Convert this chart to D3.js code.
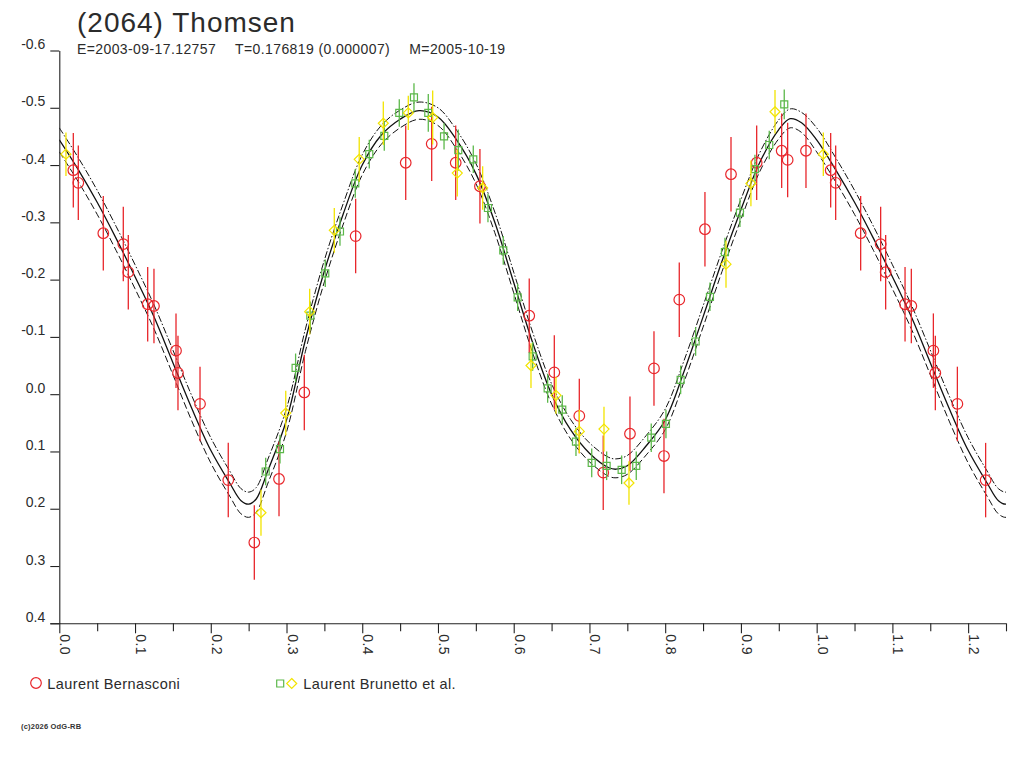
<!DOCTYPE html>
<html>
<head>
<meta charset="utf-8">
<script src="https://cdn.jsdelivr.net/npm/d3@7"></script>
<style>
  body { margin: 0; background: #fff; }
  svg { font-family: "Liberation Sans", Arial, sans-serif; }
  text { fill: #2b2b2b; }
</style>
</head>
<body>
<div id="chart"></div>
<script>
// Header texts
const titleText = "(2064) Thomsen";
const subtitleParts = ["E=2003-09-17.12757", "T=0.176819 (0.000007)", "M=2005-10-19"];
const copyrightText = "(c)2026 OdG-RB";

// Axis ticks
const xMajorTicks = [0.0, 0.1, 0.2, 0.3, 0.4, 0.5, 0.6, 0.7, 0.8, 0.9, 1.0, 1.1, 1.2];
const xMajorLabels = ["0.0", "0.1", "0.2", "0.3", "0.4", "0.5", "0.6", "0.7", "0.8", "0.9", "1.0", "1.1", "1.2"];
const xMinorTicks = [0.05, 0.15, 0.25, 0.35, 0.45, 0.55, 0.65, 0.75, 0.85, 0.95, 1.05, 1.15, 1.25];
const yTicks = [-0.6, -0.5, -0.4, -0.3, -0.2, -0.1, 0.0, 0.1, 0.2, 0.3, 0.4];
const yTickLabels = ["-0.6", "-0.5", "-0.4", "-0.3", "-0.2", "-0.1", "0.0", "0.1", "0.2", "0.3", "0.4"];

// Fitted lightcurve (solid) and its envelopes
const fitPhase = [0, 0.025, 0.05, 0.075, 0.1, 0.125, 0.15, 0.175, 0.2, 0.225, 0.24, 0.25, 0.26, 0.275, 0.3,
  0.325, 0.35, 0.375, 0.4, 0.425, 0.45, 0.475, 0.5, 0.525, 0.55, 0.575, 0.6, 0.625, 0.65, 0.675,
  0.7, 0.725, 0.735, 0.75, 0.775, 0.8, 0.825, 0.85, 0.875, 0.9, 0.925, 0.95, 0.965, 0.98];
const fitMag = [-0.444, -0.392, -0.335, -0.272, -0.205, -0.135, -0.055, 0.025, 0.098, 0.155, 0.186, 0.192, 0.183, 0.135, 0.045,
  -0.095, -0.215, -0.315, -0.400, -0.452, -0.480, -0.495, -0.484, -0.443, -0.385, -0.300, -0.195, -0.090, 0.000, 0.062,
  0.103, 0.128, 0.131, 0.125, 0.090, 0.045, -0.040, -0.135, -0.232, -0.322, -0.405, -0.462, -0.481, -0.474];
const fitUpper = [-0.465, -0.413, -0.356, -0.293, -0.226, -0.156, -0.077, 0.003, 0.076, 0.134, 0.165, 0.171, 0.163, 0.115, 0.025,
  -0.114, -0.234, -0.333, -0.418, -0.469, -0.496, -0.510, -0.500, -0.460, -0.403, -0.318, -0.213, -0.108, -0.018, 0.044,
  0.085, 0.110, 0.113, 0.107, 0.072, 0.026, -0.059, -0.154, -0.250, -0.340, -0.422, -0.479, -0.498, -0.492];
const fitLower = [-0.423, -0.371, -0.314, -0.251, -0.184, -0.114, -0.034, 0.047, 0.120, 0.178, 0.209, 0.215, 0.206, 0.157, 0.066,
  -0.075, -0.196, -0.297, -0.383, -0.436, -0.465, -0.480, -0.469, -0.427, -0.368, -0.282, -0.177, -0.072, 0.017, 0.078,
  0.118, 0.143, 0.146, 0.140, 0.106, 0.062, -0.022, -0.117, -0.214, -0.305, -0.389, -0.446, -0.465, -0.457];

// Observations: [phase, magnitude, error]
const bernasconi = [
  [0.0185, -0.391, 0.065], [0.0251, -0.369, 0.065], [0.0581, -0.281, 0.065], [0.0845, -0.262, 0.065],
  [0.0911, -0.213, 0.065], [0.1167, -0.157, 0.065], [0.1250, -0.154, 0.065], [0.1541, -0.076, 0.065],
  [0.1567, -0.037, 0.065], [0.1858, 0.017, 0.065], [0.2231, 0.150, 0.065], [0.2575, 0.259, 0.065],
  [0.2901, 0.148, 0.065], [0.3235, -0.003, 0.066], [0.3913, -0.276, 0.065], [0.4574, -0.404, 0.065],
  [0.4917, -0.437, 0.065], [0.5234, -0.404, 0.065], [0.5554, -0.363, 0.065], [0.6205, -0.137, 0.065],
  [0.6536, -0.038, 0.065], [0.6866, 0.038, 0.065], [0.7182, 0.137, 0.065], [0.7535, 0.069, 0.065],
  [0.7852, -0.045, 0.065], [0.7984, 0.108, 0.065], [0.8186, -0.165, 0.065], [0.8525, -0.288, 0.065],
  [0.8869, -0.384, 0.065], [0.9208, -0.404, 0.065], [0.9538, -0.425, 0.065], [0.9617, -0.409, 0.065],
  [0.9859, -0.425, 0.065]
];
const brunettoSquares = [
  [0.2725, 0.135, 0.024], [0.2914, 0.096, 0.025], [0.3120, -0.046, 0.025], [0.3314, -0.137, 0.025],
  [0.3512, -0.211, 0.024], [0.3706, -0.284, 0.025], [0.3908, -0.368, 0.025], [0.4093, -0.419, 0.025],
  [0.4291, -0.451, 0.026], [0.4489, -0.491, 0.024], [0.4683, -0.518, 0.025], [0.4872, -0.491, 0.033],
  [0.5080, -0.450, 0.023], [0.5268, -0.426, 0.036], [0.5466, -0.410, 0.024], [0.5660, -0.325, 0.025],
  [0.5862, -0.251, 0.025], [0.6052, -0.169, 0.024], [0.6250, -0.066, 0.025], [0.6448, -0.010, 0.025],
  [0.6641, 0.027, 0.025], [0.6822, 0.083, 0.025], [0.7030, 0.120, 0.025], [0.7227, 0.125, 0.025],
  [0.7425, 0.132, 0.025], [0.7618, 0.125, 0.025], [0.7816, 0.076, 0.025], [0.8010, 0.052, 0.025],
  [0.8204, -0.025, 0.025], [0.8402, -0.092, 0.025], [0.8591, -0.170, 0.025], [0.8789, -0.248, 0.025],
  [0.8987, -0.317, 0.025], [0.9185, -0.393, 0.025], [0.9374, -0.435, 0.025], [0.9572, -0.506, 0.026]
];
const brunettoDiamonds = [
  [0.0088, -0.419, 0.038], [0.2663, 0.207, 0.040], [0.2990, 0.033, 0.039], [0.3306, -0.144, 0.040],
  [0.3631, -0.286, 0.039], [0.3960, -0.410, 0.039], [0.4278, -0.473, 0.038], [0.4608, -0.491, 0.030],
  [0.4930, -0.483, 0.047], [0.5255, -0.386, 0.041], [0.5590, -0.360, 0.038], [0.6228, -0.050, 0.039],
  [0.6558, 0.002, 0.032], [0.6866, 0.065, 0.038], [0.7192, 0.061, 0.039], [0.7522, 0.155, 0.038],
  [0.8803, -0.227, 0.041], [0.9132, -0.368, 0.040], [0.9450, -0.493, 0.038]
];

const legendLabels = ["Laurent Bernasconi", "Laurent Brunetto et al."];

class PhasePlot {
  constructor(_config) {
    this.config = {
      parentElement: _config.parentElement,
      width: 1024,
      height: 768,
      xRange: [59.3, 1006],
      yRange: [50.5, 623.3],
      red: "#e8262b",
      green: "#5cb84a",
      yellow: "#f2e400",
    };
    this.initVis();
  }

  initVis() {
    const vis = this;
    const c = vis.config;

    vis.svg = d3
      .select(c.parentElement)
      .append("svg")
      .attr("width", c.width)
      .attr("height", c.height);

    vis.x = d3.scaleLinear().domain([0, 1.25]).range(c.xRange);
    vis.y = d3.scaleLinear().domain([-0.6, 0.4]).range(c.yRange);

    vis.svg
      .append("clipPath")
      .attr("id", "plot-clip")
      .append("rect")
      .attr("x", c.xRange[0])
      .attr("y", 0)
      .attr("width", c.xRange[1] - c.xRange[0])
      .attr("height", c.yRange[1]);

    vis.updateVis();
  }

  // the chart repeats phases 0..0.25 after 1.0
  wrap(points, limit) {
    return points.concat(points.filter((d) => d[0] + 1 <= limit).map((d) => [d[0] + 1, d[1], d[2]]));
  }

  updateVis() {
    const vis = this;
    const c = vis.config;

    // Title and elements
    vis.svg
      .append("text")
      .attr("x", 77)
      .attr("y", 31.5)
      .style("font-size", "28px")
      .style("letter-spacing", "1px")
      .text(titleText);

    const subX = [77, 235, 409.3];
    vis.svg
      .selectAll("text.sub")
      .data(subtitleParts)
      .join("text")
      .attr("class", "sub")
      .attr("x", (d, i) => subX[i])
      .attr("y", 54.3)
      .style("font-size", "14px")
      .style("letter-spacing", "0.4px")
      .text((d) => d);

    // Y axis
    const yAxis = d3
      .axisLeft(vis.y)
      .tickValues(yTicks)
      .tickSize(9)
      .tickSizeOuter(0)
      .tickPadding(5)
      .tickFormat((d, i) => yTickLabels[i]);
    const yG = vis.svg.append("g").attr("transform", `translate(${c.xRange[0]},0)`).call(yAxis);
    yG.selectAll("text").attr("dy", null).attr("y", -2).style("font-size", "14px").style("fill", "#2b2b2b");

    // X axis: minor and major ticks
    const xMinor = d3.axisBottom(vis.x).tickValues(xMinorTicks).tickSize(8).tickSizeOuter(0).tickFormat("");
    const xMinorG = vis.svg.append("g").attr("transform", `translate(0,${c.yRange[1]})`).call(xMinor);
    xMinorG.select(".domain").remove();

    const xAxis = d3
      .axisBottom(vis.x)
      .tickValues(xMajorTicks)
      .tickSize(10)
      .tickSizeOuter(0)
      .tickFormat((d, i) => xMajorLabels[i]);
    const xG = vis.svg.append("g").attr("transform", `translate(0,${c.yRange[1]})`).call(xAxis);
    xG.select(".domain").attr("d", `M${c.xRange[0] - 9},0.5H${c.xRange[1]}`);
    xG.selectAll("text")
      .attr("dy", null)
      .attr("x", 11)
      .attr("y", -0.5)
      .attr("text-anchor", "start")
      .attr("transform", "rotate(90)")
      .style("font-size", "14px")
      .style("letter-spacing", "0.4px")
      .style("fill", "#2b2b2b");

    vis.svg.selectAll(".domain, .tick line").attr("stroke", "#222").attr("stroke-width", 1.1);

    // Fitted curves
    const plot = vis.svg.append("g").attr("clip-path", "url(#plot-clip)");
    const line = d3
      .line()
      .x((d) => vis.x(d[0]))
      .y((d) => vis.y(d[1]))
      .curve(d3.curveCatmullRom);
    const curves = [
      { values: fitUpper, dash: "7,2,1.5,2", width: 1 },
      { values: fitLower, dash: "7,3", width: 1 },
      { values: fitMag, dash: null, width: 1.3 },
    ];
    curves.forEach((cv) => {
      const pts = vis.wrap(fitPhase.map((p, i) => [p, cv.values[i]]), 1.27);
      plot
        .append("path")
        .datum(pts)
        .attr("d", line)
        .attr("fill", "none")
        .attr("stroke", "#111")
        .attr("stroke-width", cv.width)
        .attr("stroke-dasharray", cv.dash);
    });

    // Observations
    const series = [
      { data: vis.wrap(bernasconi, 1.25), color: c.red, shape: "circle" },
      { data: vis.wrap(brunettoSquares, 1.25), color: c.green, shape: "square" },
      { data: vis.wrap(brunettoDiamonds, 1.25), color: c.yellow, shape: "diamond" },
    ];
    series.forEach((s) => {
      const g = vis.svg.append("g");
      g.selectAll("line.err")
        .data(s.data)
        .join("line")
        .attr("class", "err")
        .attr("x1", (d) => vis.x(d[0]))
        .attr("x2", (d) => vis.x(d[0]))
        .attr("y1", (d) => vis.y(d[1] - d[2]))
        .attr("y2", (d) => vis.y(d[1] + d[2]))
        .attr("stroke", s.color)
        .attr("stroke-width", 1.3);
      g.selectAll("path.mark")
        .data(s.data)
        .join("path")
        .attr("class", "mark")
        .attr("transform", (d) => `translate(${vis.x(d[0])},${vis.y(d[1])})`)
        .attr("d", vis.shapePath(s.shape))
        .attr("fill", "none")
        .attr("stroke", s.color)
        .attr("stroke-width", 1.2);
    });

    // Legend
    const legend = vis.svg.append("g");
    legend.append("path").attr("transform", "translate(36,683)").attr("d", vis.shapePath("circle"))
      .attr("fill", "none").attr("stroke", c.red).attr("stroke-width", 1.2);
    legend.append("path").attr("transform", "translate(280.2,683.5)").attr("d", vis.shapePath("square"))
      .attr("fill", "none").attr("stroke", c.green).attr("stroke-width", 1.2);
    legend.append("path").attr("transform", "translate(291.7,683.5)").attr("d", vis.shapePath("diamond"))
      .attr("fill", "none").attr("stroke", c.yellow).attr("stroke-width", 1.2);
    const legendX = [47.3, 303.3];
    legend
      .selectAll("text")
      .data(legendLabels)
      .join("text")
      .attr("x", (d, i) => legendX[i])
      .attr("y", 688.5)
      .style("font-size", "14.5px")
      .style("letter-spacing", "0.4px")
      .text((d) => d);

    vis.svg
      .append("text")
      .attr("x", 21)
      .attr("y", 728.5)
      .style("font-size", "7.5px")
      .style("font-weight", "bold")
      .style("letter-spacing", "0.2px")
      .style("fill", "#333")
      .text(copyrightText);
  }

  shapePath(shape) {
    if (shape === "circle") return d3.arc()({ innerRadius: 0, outerRadius: 5.3, startAngle: 0, endAngle: 2 * Math.PI });
    if (shape === "square") return "M-3.5,-3.5H3.5V3.5H-3.5Z";
    return "M0,-5L5,0L0,5L-5,0Z";
  }
}

const plot = new PhasePlot({ parentElement: "#chart" });
</script>
</body>
</html>
